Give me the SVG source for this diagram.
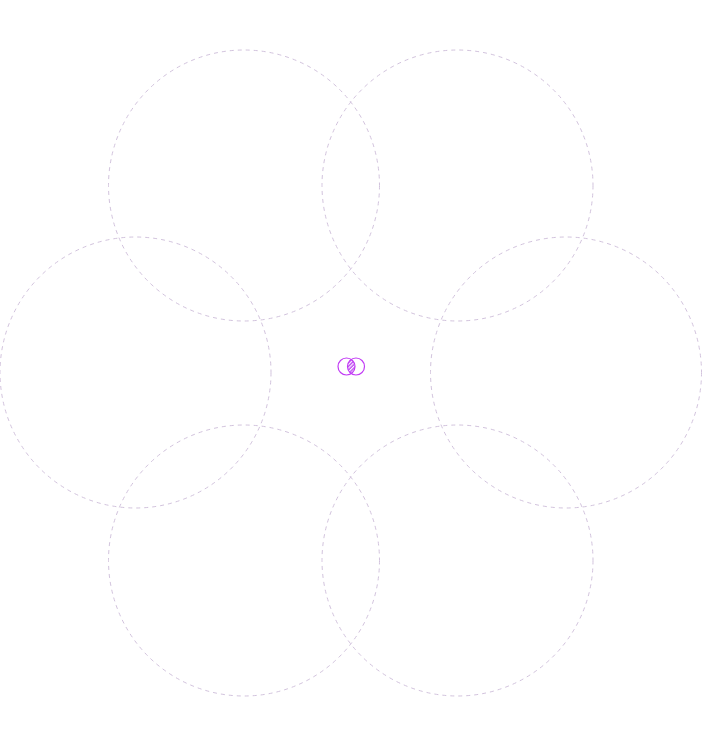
<svg xmlns="http://www.w3.org/2000/svg" width="702" height="747" viewBox="0 0 702 747">
<defs>
<style>
.ring{fill:none;stroke:#d2c3dd;stroke-width:1;stroke-dasharray:4 4}
.venn{fill:none;stroke:#c23cf5;stroke-width:1.2}
.hatch-line{stroke:#b83cf0;stroke-width:1.3}
</style>
<pattern id="hatch" patternUnits="userSpaceOnUse" width="2.6" height="2.6" patternTransform="rotate(45)">
<line x1="1" y1="0" x2="1" y2="2.6" class="hatch-line"/>
</pattern>
<clipPath id="clipL"><circle cx="346.5" cy="366.5" r="8.5"/></clipPath>
</defs>
<rect width="702" height="747" fill="#ffffff"/>
<g id="ring1"><circle class="ring" cx="244" cy="185.5" r="135.5"/></g>
<g id="ring2"><circle class="ring" cx="457.5" cy="185.5" r="135.5"/></g>
<g id="ring3"><circle class="ring" cx="135.5" cy="372.5" r="135.5"/></g>
<g id="ring4"><circle class="ring" cx="566" cy="372.5" r="135.5"/></g>
<g id="ring5"><circle class="ring" cx="244" cy="560.5" r="135.5"/></g>
<g id="ring6"><circle class="ring" cx="457.5" cy="560.5" r="135.5"/></g>
<g id="venn-icon">
<circle cx="356" cy="366.5" r="8.5" fill="url(#hatch)" clip-path="url(#clipL)"/>
<circle class="venn" cx="346.5" cy="366.5" r="8.5"/>
<circle class="venn" cx="356" cy="366.5" r="8.5"/>
</g>
<g id="connectors"></g>
</svg>
